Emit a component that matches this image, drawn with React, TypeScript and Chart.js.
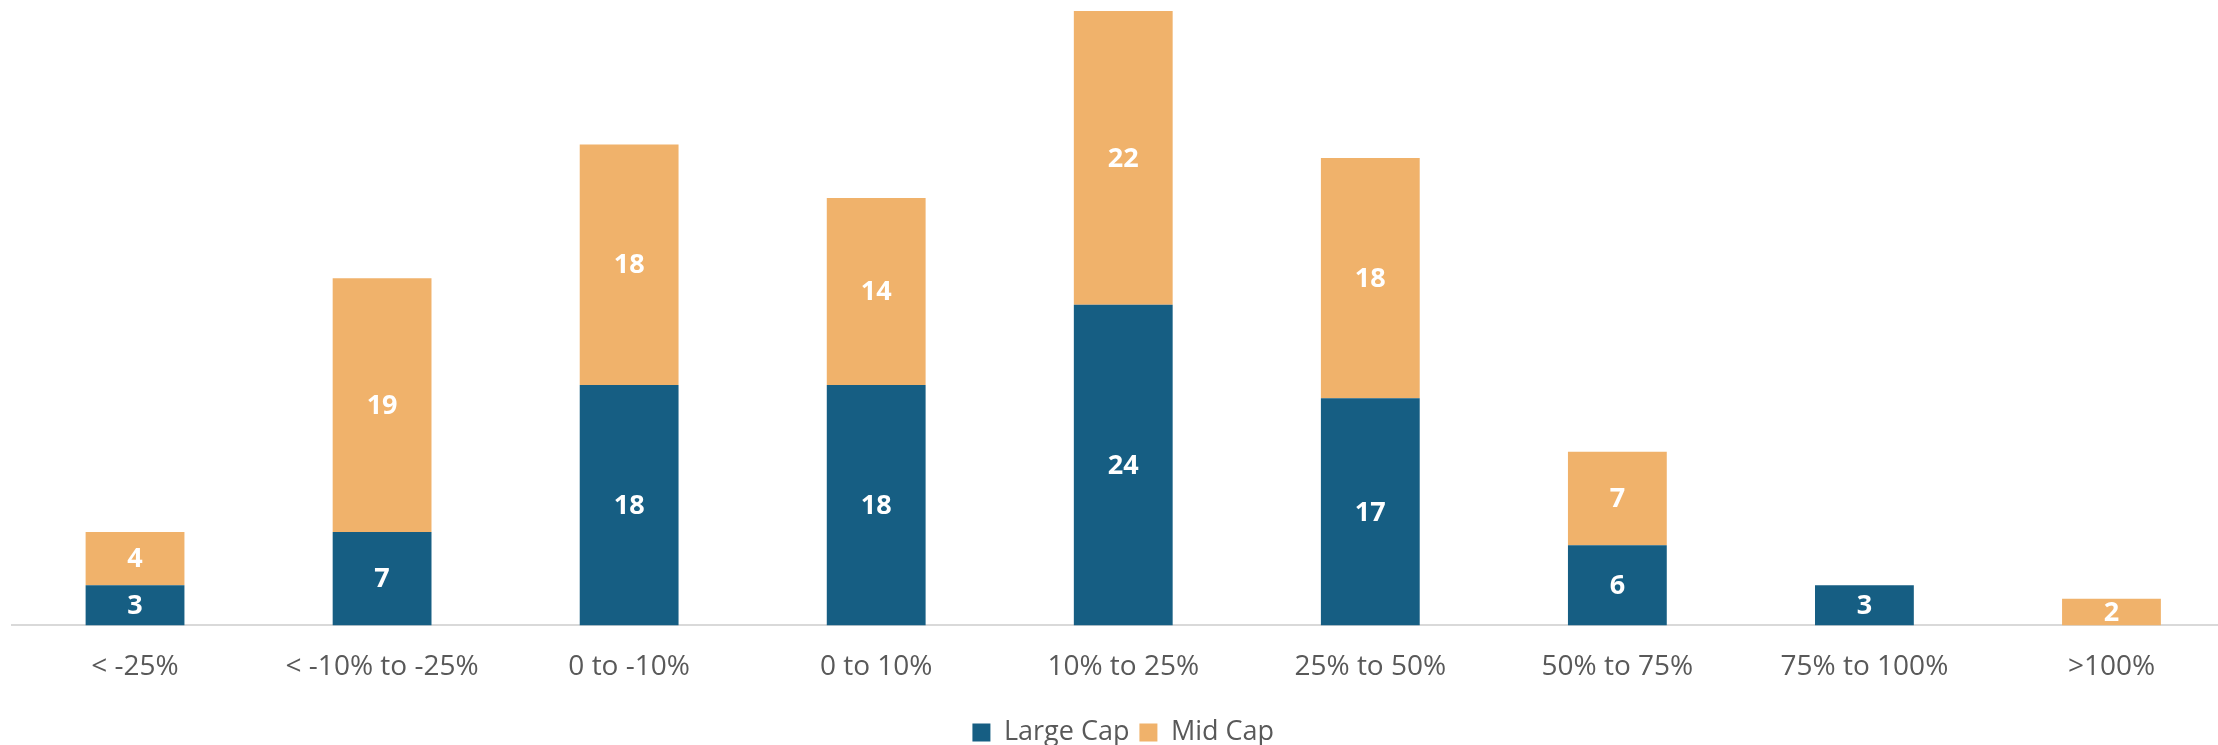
import React, { useEffect, useRef } from "react";
import { Chart, registerables } from "chart.js";

Chart.register(...registerables);

const categories = [
  "< -25%",
  "< -10% to -25%",
  "0 to -10%",
  "0 to 10%",
  "10% to 25%",
  "25% to 50%",
  "50% to 75%",
  "75% to 100%",
  ">100%",
];
const largeCap = [3, 7, 18, 18, 24, 17, 6, 3, 0];
const midCap = [4, 19, 18, 14, 22, 18, 7, 0, 2];

const BLUE = "#165E83";
const ORANGE = "#F0B26B";
const GREY = "#595959";
const FONT = "'Open Sans', 'Noto Sans', sans-serif";

const barLabels = {
  id: "barLabels",
  afterDatasetsDraw(chart: any) {
    const ctx = chart.ctx;
    ctx.save();
    ctx.fillStyle = "#FFFFFF";
    ctx.font = `bold 27px ${FONT}`;
    ctx.textAlign = "center";
    ctx.textBaseline = "middle";
    chart.data.datasets.forEach((ds: any, di: number) => {
      const meta = chart.getDatasetMeta(di);
      meta.data.forEach((bar: any, i: number) => {
        const v = ds.data[i];
        if (!v) return;
        const y = (bar.y + bar.base) / 2;
        ctx.fillText(String(v), bar.x, y + 1);
      });
    });
    ctx.restore();
  },
};

export default function App() {
  const ref = useRef<HTMLCanvasElement>(null);
  useEffect(() => {
    if (!ref.current) return;
    const chart = new Chart(ref.current, {
      type: "bar",
      data: {
        labels: categories,
        datasets: [
          {
            label: "Large Cap",
            data: largeCap,
            backgroundColor: BLUE,
            borderWidth: 0,
            categoryPercentage: 1,
            barPercentage: 0.4,
          },
          {
            label: "Mid Cap",
            data: midCap,
            backgroundColor: ORANGE,
            borderWidth: 0,
            categoryPercentage: 1,
            barPercentage: 0.4,
          },
        ],
      },
      options: {
        responsive: false,
        animation: false,
        devicePixelRatio: 1,
        layout: { padding: { top: 11, left: 11.5, right: 5, bottom: -11 } },
        plugins: {
          legend: {
            position: "bottom",
            labels: {
              color: GREY,
              font: { family: FONT, size: 27 },
              boxWidth: 18,
              boxHeight: 18,
              padding: 10,
            },
          },
          tooltip: { enabled: false },
        },
        scales: {
          x: {
            stacked: true,
            grid: { display: false, drawTicks: false },
            border: { display: true, color: "#D9D9D9", width: 2 },
            ticks: {
              color: GREY,
              font: { family: FONT, size: 28 },
              padding: 25,
              maxRotation: 0,
              autoSkip: false,
            },
          },
          y: {
            stacked: true,
            display: false,
            min: 0,
            max: 46,
          },
        },
      },
      plugins: [barLabels],
    });
    return () => chart.destroy();
  }, []);
  return (
    <div
      style={{
        position: "fixed",
        left: 0,
        top: 0,
        width: 2218,
        height: 745,
        overflow: "hidden",
        background: "#FFFFFF",
      }}
    >
      <canvas ref={ref} width={2240} height={745} style={{ width: 2240, height: 745, display: "block" }} />
    </div>
  );
}
